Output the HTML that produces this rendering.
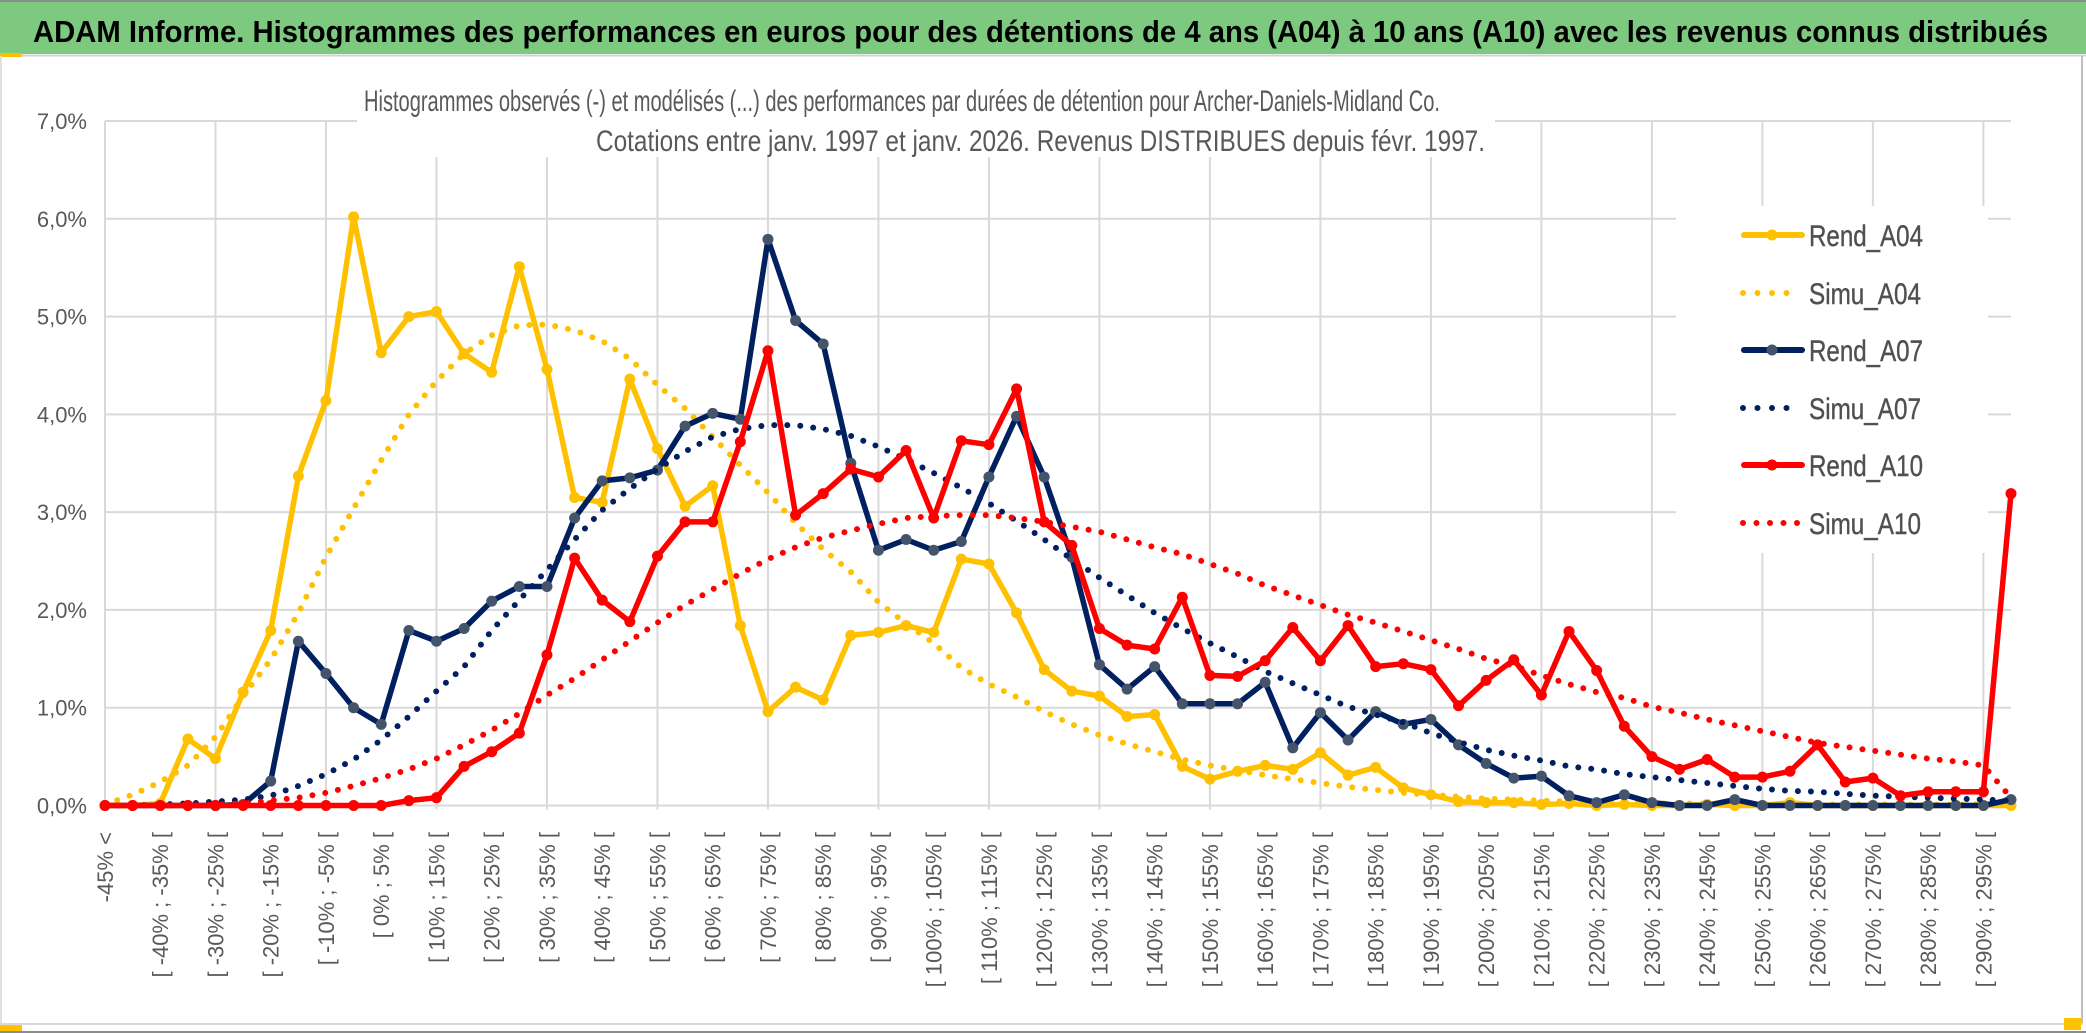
<!DOCTYPE html>
<html><head><meta charset="utf-8"><title>ADAM Informe - Archer-Daniels-Midland</title>
<style>
html,body{margin:0;padding:0;background:#fff;}
svg{display:block;font-family:"Liberation Sans",sans-serif;}
</style></head>
<body>
<svg id="chart" width="2086" height="1033" viewBox="0 0 2086 1033" xmlns="http://www.w3.org/2000/svg">
  <rect x="0" y="0" width="2086" height="1033" fill="#fff"/>
  <rect x="0" y="1" width="2086" height="53" fill="#7CC97F"/>
  <line x1="0" y1="1" x2="2086" y2="1" stroke="#8c8c8c" stroke-width="2"/>
  <text x="33" y="42" font-size="31" font-weight="bold" fill="#000" textLength="2015" lengthAdjust="spacingAndGlyphs">ADAM Informe. Histogrammes des performances en euros pour des détentions de 4 ans (A04) à 10 ans (A10) avec les revenus connus distribués</text>
  <line x1="22" y1="55.5" x2="2086" y2="55.5" stroke="#d0d0d0" stroke-width="2"/>
  <rect x="0" y="53" width="22" height="4" fill="#FFC000"/>
  <g id="grid"></g>
  <rect x="357" y="60" width="1138" height="97" fill="#fff"/>
  <rect x="1676" y="206" width="312" height="347" fill="#fff"/>
  <text x="364" y="111" font-size="30" fill="#595959" textLength="1076" lengthAdjust="spacingAndGlyphs">Histogrammes observés (-) et modélisés (...) des performances par durées de détention pour Archer-Daniels-Midland Co.</text>
  <text x="596" y="151" font-size="30" fill="#595959" textLength="889" lengthAdjust="spacingAndGlyphs">Cotations entre janv. 1997 et janv. 2026. Revenus DISTRIBUES depuis févr. 1997.</text>
  <g id="yticks"></g>
  <g id="xticks"></g>
  <g id="series"></g>
  <g id="legend" font-size="30" fill="#505050" stroke="#505050" stroke-width="0.4">
    <g>
      <line x1="1744" y1="235" x2="1802" y2="235" stroke="#FFC000" stroke-width="6" stroke-linecap="round"/>
      <circle cx="1772" cy="235" r="5.5" fill="#FFC000" stroke="none"/>
      <text x="1809" y="246" textLength="114" lengthAdjust="spacingAndGlyphs">Rend_A04</text>
    </g>
    <g>
      <line x1="1743" y1="293" x2="1790" y2="293" stroke="#FFC000" stroke-width="6" stroke-linecap="round" stroke-dasharray="0 14.5"/>
      <text x="1809" y="304" textLength="112" lengthAdjust="spacingAndGlyphs">Simu_A04</text>
    </g>
    <g>
      <line x1="1744" y1="350" x2="1802" y2="350" stroke="#002060" stroke-width="6" stroke-linecap="round"/>
      <circle cx="1772" cy="350" r="5.5" fill="#44546A" stroke="none"/>
      <text x="1809" y="361" textLength="114" lengthAdjust="spacingAndGlyphs">Rend_A07</text>
    </g>
    <g>
      <line x1="1743" y1="408" x2="1790" y2="408" stroke="#002060" stroke-width="6" stroke-linecap="round" stroke-dasharray="0 14.5"/>
      <text x="1809" y="419" textLength="112" lengthAdjust="spacingAndGlyphs">Simu_A07</text>
    </g>
    <g>
      <line x1="1744" y1="465" x2="1802" y2="465" stroke="#FF0000" stroke-width="6" stroke-linecap="round"/>
      <circle cx="1772" cy="465" r="5.5" fill="#FF0000" stroke="none"/>
      <text x="1809" y="476" textLength="114" lengthAdjust="spacingAndGlyphs">Rend_A10</text>
    </g>
    <g>
      <line x1="1743" y1="523" x2="1800" y2="523" stroke="#FF0000" stroke-width="6" stroke-linecap="round" stroke-dasharray="0 13.5"/>
      <text x="1809" y="534" textLength="112" lengthAdjust="spacingAndGlyphs">Simu_A10</text>
    </g>
  </g>
  <line x1="2082" y1="56" x2="2082" y2="1024" stroke="#bfbfbf" stroke-width="2"/>
  <line x1="1" y1="56" x2="1" y2="1024" stroke="#e0e0e0" stroke-width="2"/>
  <line x1="0" y1="1024" x2="2083" y2="1024" stroke="#d9d9d9" stroke-width="2"/>
  <line x1="0" y1="1032" x2="2086" y2="1032" stroke="#8c8c8c" stroke-width="2"/>
  <rect x="0" y="1025" width="22" height="6" fill="#FFC000"/>
  <rect x="2064" y="1018" width="17" height="12" fill="#FFC000"/>
</svg>
<script>
const categories = ["-45% <","[ -45% ; -40% [","[ -40% ; -35% [","[ -35% ; -30% [","[ -30% ; -25% [","[ -25% ; -20% [","[ -20% ; -15% [","[ -15% ; -10% [","[ -10% ; -5% [","[ -5% ; 0% [",
"[ 0% ; 5% [","[ 5% ; 10% [","[ 10% ; 15% [","[ 15% ; 20% [","[ 20% ; 25% [","[ 25% ; 30% [","[ 30% ; 35% [","[ 35% ; 40% [","[ 40% ; 45% [","[ 45% ; 50% [",
"[ 50% ; 55% [","[ 55% ; 60% [","[ 60% ; 65% [","[ 65% ; 70% [","[ 70% ; 75% [","[ 75% ; 80% [","[ 80% ; 85% [","[ 85% ; 90% [","[ 90% ; 95% [","[ 95% ; 100% [",
"[ 100% ; 105% [","[ 105% ; 110% [","[ 110% ; 115% [","[ 115% ; 120% [","[ 120% ; 125% [","[ 125% ; 130% [","[ 130% ; 135% [","[ 135% ; 140% [","[ 140% ; 145% [","[ 145% ; 150% [",
"[ 150% ; 155% [","[ 155% ; 160% [","[ 160% ; 165% [","[ 165% ; 170% [","[ 170% ; 175% [","[ 175% ; 180% [","[ 180% ; 185% [","[ 185% ; 190% [","[ 190% ; 195% [","[ 195% ; 200% [",
"[ 200% ; 205% [","[ 205% ; 210% [","[ 210% ; 215% [","[ 215% ; 220% [","[ 220% ; 225% [","[ 225% ; 230% [","[ 230% ; 235% [","[ 235% ; 240% [","[ 240% ; 245% [","[ 245% ; 250% [",
"[ 250% ; 255% [","[ 255% ; 260% [","[ 260% ; 265% [","[ 265% ; 270% [","[ 270% ; 275% [","[ 275% ; 280% [","[ 280% ; 285% [","[ 285% ; 290% [","[ 290% ; 295% [","[ 295% ; 300% ["];

const yTickValues = [0,1,2,3,4,5,6,7];
const yTickLabels = ["0,0%","1,0%","2,0%","3,0%","4,0%","5,0%","6,0%","7,0%"];

const rendA04 = [0,0,0.02,0.68,0.48,1.16,1.79,3.37,4.14,6.02,
4.63,5.0,5.05,4.62,4.43,5.51,4.46,3.15,3.10,4.36,
3.65,3.06,3.27,1.84,0.96,1.21,1.08,1.74,1.77,1.84,
1.77,2.52,2.47,1.97,1.39,1.17,1.12,0.91,0.93,0.40,
0.27,0.35,0.41,0.37,0.54,0.31,0.39,0.18,0.11,0.04,
0.03,0.03,0.01,0.02,0,0.01,0,0,0.01,0,
0,0.03,0,0,0,0,0,0,0,0];
const simuA04 = [0.01,0.11,0.24,0.41,0.70,1.12,1.49,1.97,2.54,3.04,
3.53,4.0,4.34,4.62,4.81,4.91,4.92,4.86,4.75,4.57,
4.30,4.06,3.77,3.48,3.20,2.89,2.62,2.39,2.08,1.86,
1.66,1.41,1.24,1.11,0.96,0.83,0.72,0.63,0.55,0.47,
0.41,0.36,0.31,0.27,0.23,0.19,0.16,0.13,0.11,0.09,
0.07,0.06,0.05,0.04,0.03,0.03,0.02,0.02,0.02,0.02,
0.01,0.01,0.01,0.01,0.01,0.01,0.01,0.01,0.01,0.01];
const rendA07 = [0,0,0,0,0,0.01,0.25,1.68,1.35,1.0,
0.83,1.79,1.68,1.81,2.09,2.24,2.24,2.94,3.32,3.35,
3.43,3.88,4.01,3.95,5.79,4.96,4.72,3.50,2.61,2.72,
2.61,2.70,3.36,3.98,3.36,2.54,1.44,1.19,1.42,1.04,
1.04,1.04,1.26,0.59,0.95,0.67,0.96,0.83,0.88,0.62,
0.43,0.28,0.30,0.10,0.03,0.11,0.03,0,0,0.06,
0,0,0,0,0,0,0,0,0,0.06];
const simuA07 = [0,0,0.01,0.02,0.04,0.06,0.10,0.20,0.32,0.47,
0.67,0.91,1.17,1.42,1.79,2.10,2.41,2.72,3.02,3.24,
3.44,3.62,3.77,3.85,3.89,3.89,3.85,3.78,3.67,3.54,
3.40,3.25,3.09,2.91,2.72,2.52,2.33,2.15,1.97,1.81,
1.66,1.52,1.37,1.25,1.13,1.01,0.93,0.85,0.74,0.65,
0.57,0.51,0.46,0.40,0.37,0.32,0.29,0.26,0.23,0.20,
0.17,0.15,0.14,0.12,0.10,0.09,0.08,0.07,0.06,0.05];
const rendA10 = [0,0,0,0,0,0,0,0,0,0,
0,0.05,0.08,0.40,0.55,0.74,1.54,2.53,2.10,1.88,
2.55,2.90,2.90,3.72,4.65,2.97,3.19,3.44,3.36,3.63,
2.94,3.73,3.69,4.26,2.90,2.66,1.81,1.64,1.60,2.13,
1.33,1.32,1.48,1.82,1.48,1.84,1.42,1.45,1.39,1.02,
1.28,1.49,1.13,1.78,1.38,0.81,0.50,0.37,0.47,0.29,
0.29,0.35,0.62,0.24,0.28,0.10,0.14,0.14,0.14,3.19];
const simuA10 = [0,0,0,0,0.01,0.02,0.05,0.08,0.13,0.20,
0.28,0.37,0.48,0.62,0.77,0.94,1.13,1.30,1.49,1.68,
1.87,2.05,2.21,2.37,2.52,2.64,2.74,2.81,2.88,2.94,
2.96,2.97,2.97,2.94,2.90,2.85,2.80,2.72,2.64,2.57,
2.47,2.37,2.25,2.15,2.05,1.95,1.87,1.78,1.69,1.60,
1.50,1.43,1.33,1.24,1.16,1.10,1.01,0.95,0.88,0.82,
0.76,0.70,0.64,0.60,0.56,0.52,0.48,0.45,0.41,0.08];

const NS = "http://www.w3.org/2000/svg";
const X0 = 105, X1 = 2011, Y0 = 805.5, YTOP = 121, YMAX = 7;
function xPos(i){ return X0 + (X1 - X0) * i / (categories.length - 1); }
function yPos(v){ return Y0 - (Y0 - YTOP) * v / YMAX; }
function mk(tag, attrs){ const e = document.createElementNS(NS, tag); for (const k in attrs) e.setAttribute(k, attrs[k]); return e; }

const grid = document.getElementById('grid');
yTickValues.forEach(function(v){
  const l = mk('line', {x1: X0, x2: X1, y1: yPos(v), y2: yPos(v), stroke: '#d9d9d9', 'stroke-width': 2});
  
  
  grid.appendChild(l);
});
for (let i = 0; i < categories.length; i += 4) {
  const l = mk('line', {x1: xPos(i), x2: xPos(i), y1: YTOP, y2: Y0 + 4, stroke: '#d9d9d9', 'stroke-width': 2});
  
  
  grid.appendChild(l);
}

const yt = document.getElementById('yticks');
yTickValues.forEach(function(v, k){
  const t = mk('text', {x: 87, y: yPos(v) + 8, 'font-size': 22, fill: '#595959', 'text-anchor': 'end'});
  t.textContent = yTickLabels[k];
  
  
  yt.appendChild(t);
});

const xt = document.getElementById('xticks');
categories.forEach(function(c, i){
  if (i % 2 !== 0) return;
  const x = xPos(i) + 8, y = 832;
  const t = mk('text', {x: x, y: y, 'font-size': 22, fill: '#595959', 'text-anchor': 'end', transform: 'rotate(-90 ' + x + ' ' + y + ')'});
  t.textContent = c;
  
  
  xt.appendChild(t);
});

const layer = document.getElementById('series');
function pts(arr){ return arr.map(function(v, i){ return xPos(i).toFixed(1) + ',' + yPos(v).toFixed(1); }).join(' '); }
function drawSimu(arr, color, name){
  const p = mk('polyline', {points: pts(arr), fill: 'none', stroke: color, 'stroke-width': 6, 'stroke-linecap': 'round', 'stroke-dasharray': '0 13'});
  
  
  layer.appendChild(p);
}
function drawRend(arr, color, markerColor, name){
  const g = mk('g', {});
  
  
  const p = mk('polyline', {points: pts(arr), fill: 'none', stroke: color, 'stroke-width': 5.5, 'stroke-linejoin': 'round'});
  
  
  g.appendChild(p);
  arr.forEach(function(v, i){
    const c = mk('circle', {cx: xPos(i), cy: yPos(v), r: 5.5, fill: markerColor});
    
    
    g.appendChild(c);
  });
  layer.appendChild(g);
}
drawRend(rendA04, '#FFC000', '#FFC000', 'series-rend-a04');
drawSimu(simuA04, '#FFC000', 'series-simu-a04');
drawRend(rendA07, '#002060', '#44546A', 'series-rend-a07');
drawSimu(simuA07, '#002060', 'series-simu-a07');
drawRend(rendA10, '#FF0000', '#FF0000', 'series-rend-a10');
drawSimu(simuA10, '#FF0000', 'series-simu-a10');
</script>
</body></html>
